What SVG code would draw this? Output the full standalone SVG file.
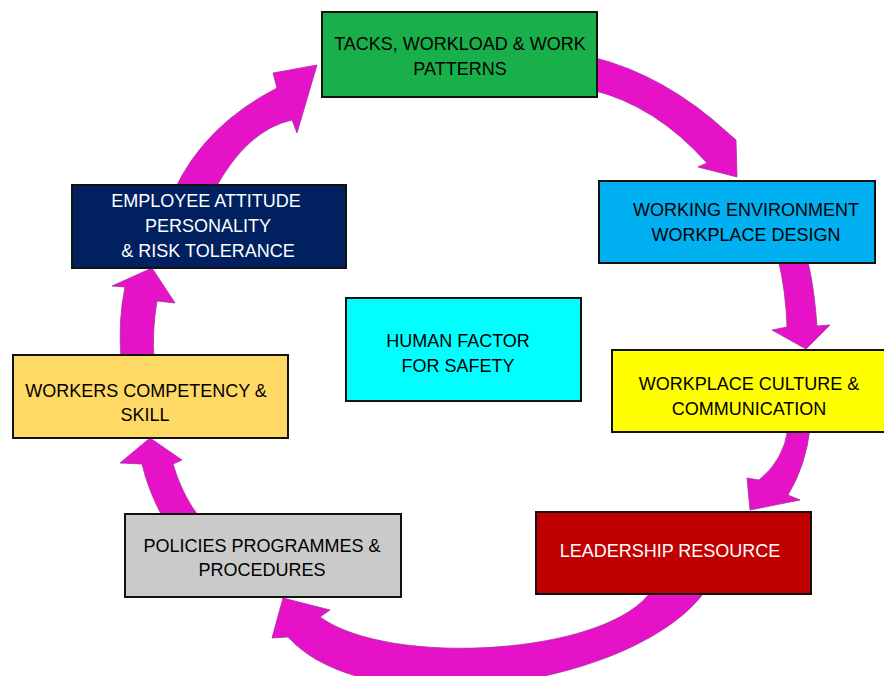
<svg xmlns="http://www.w3.org/2000/svg" width="884" height="676" viewBox="0 0 884 676">
<style>
.arr{fill:#E512C8;stroke:#A8309F;stroke-width:0.8;stroke-linejoin:round}
.box{stroke:#111;stroke-width:2}
text{font-family:"Liberation Sans",Arial,sans-serif;font-size:18px;text-anchor:middle;fill:#000}
.w{fill:#fff}
</style>
<rect width="884" height="676" fill="#fff"/>
<g id="connectors">
<path class="arr" d="M592,57 Q665,75 728,133 L736,140 L737,177 L698,167 L707,163 Q655,105 592,90 Z"/>
<path class="arr" d="M778,258 Q786,292 787,327 L772,330 L806,349 L830,325 L817,326 Q814,285 807,258 Z"/>
<path class="arr" d="M788,428 Q784,460 759,480 L747,478 L750,510 L800,500 L788,495 Q806,465 810,428 Z"/>
<path class="arr" d="M652,590 C610,655 390,668 320,617 L330,610 L283,598 L272,638 L288,637 C370,728 640,685 706,590 Z"/>
<path class="arr" d="M163,518 Q148,490 142,464 L120,463 L150,438 L182,460 L173,464 Q182,495 200,518 Z"/>
<path class="arr" d="M121,359 Q118,320 125,287 L112,286 L152,268 L175,303 L157,301 Q152,330 154,359 Z"/>
<path class="arr" d="M175,189 Q205,125 277,88 L273,73 L317,65 L297,133 L292,120 Q247,130 215,189 Z"/>
</g>
<g id="tasks">
<rect class="box" x="322" y="12" width="275" height="85" fill="#19AF4B"/>
<text x="460" y="50">TACKS, WORKLOAD &amp; WORK</text>
<text x="460" y="75">PATTERNS</text>
</g>
<g id="environment">
<rect class="box" x="599" y="181" width="276" height="82" fill="#00B0F0"/>
<text x="746" y="216">WORKING ENVIRONMENT</text>
<text x="746" y="241">WORKPLACE DESIGN</text>
</g>
<g id="culture">
<rect class="box" x="612" y="350" width="280" height="82" fill="#FFFF00"/>
<text x="749" y="390">WORKPLACE CULTURE &amp;</text>
<text x="749" y="415">COMMUNICATION</text>
</g>
<g id="leadership">
<rect class="box" x="536" y="512" width="275" height="82" fill="#C00000"/>
<text class="w" x="670" y="557">LEADERSHIP RESOURCE</text>
</g>
<g id="policies">
<rect class="box" x="125" y="514" width="276" height="83" fill="#CACACA"/>
<text x="262" y="552">POLICIES PROGRAMMES &amp;</text>
<text x="262" y="576">PROCEDURES</text>
</g>
<g id="competency">
<rect class="box" x="13" y="355" width="275" height="83" fill="#FFD966"/>
<text x="146" y="397">WORKERS COMPETENCY &amp;</text>
<text x="145" y="421">SKILL</text>
</g>
<g id="attitude">
<rect class="box" x="72" y="185" width="274" height="83" fill="#002060"/>
<text class="w" x="206" y="207">EMPLOYEE ATTITUDE</text>
<text class="w" x="208" y="232">PERSONALITY</text>
<text class="w" x="208" y="257">&amp; RISK TOLERANCE</text>
</g>
<g id="human-factor">
<rect class="box" x="346" y="298" width="235" height="103" fill="#00FFFF"/>
<text x="458" y="347">HUMAN FACTOR</text>
<text x="458" y="372">FOR SAFETY</text>
</g>
</svg>
